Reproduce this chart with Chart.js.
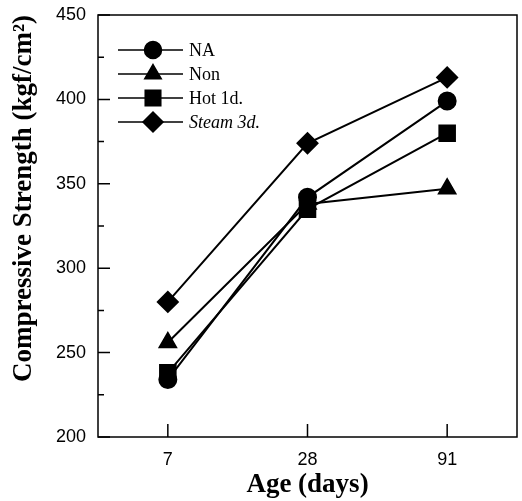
<!DOCTYPE html>
<html>
<head>
<meta charset="utf-8">
<script src="https://cdn.jsdelivr.net/npm/chart.js@4/dist/chart.umd.min.js"></script>
<style>
    html, body { margin: 0; padding: 0; background: #fff; }
    #wrap { width: 522px; height: 501px; }
</style>
</head>
<body>
<div id="wrap"><canvas id="grafico" width="522" height="501"></canvas></div>
<script>
const idades = ['7', '28', '91'];
const serieNA = [234, 342, 399];
const serieNon = [256, 338, 347];
const serieHot = [238, 335, 380];
const serieSteam = [280, 374, 413];
const nomesSeries = ['NA', 'Non', 'Hot 1d.', 'Steam 3d.'];
const marcadores = ['circle', 'triangle', 'rect', 'rectRot'];
const raios = [8.5, 9.5, 11, 10];

const serif = '"Liberation Serif", "Times New Roman", serif';
const sans = '"Liberation Sans", Arial, sans-serif';

function desenharMarcador(ctx, estilo, raio, x, y) {
    if (Chart.helpers && Chart.helpers.drawPoint) {
        Chart.helpers.drawPoint(ctx, { pointStyle: estilo, radius: raio, rotation: 0, borderWidth: 1 }, x, y);
        ctx.fill();
        return;
    }
    ctx.beginPath();
    ctx.arc(x, y, raio, 0, Math.PI * 2);
    ctx.fill();
}

// ticks pointing inward + frame + legend with line and marker
const molduraPlugin = {
    id: 'moldura',
    afterDatasetsDraw(chart) {
        const ctx = chart.ctx;
        const area = chart.chartArea;
        const ys = chart.scales.y;
        const xs = chart.scales.x;
        ctx.save();
        ctx.strokeStyle = '#000';
        ctx.lineWidth = 1.5;
        ctx.strokeRect(area.left, area.top, area.right - area.left, area.bottom - area.top);

        ctx.beginPath();
        const valores = ys.ticks.map(t => t.value);
        valores.forEach((v, i) => {
            const py = ys.getPixelForValue(v);
            ctx.moveTo(area.left, py);
            ctx.lineTo(area.left + 12, py);
            if (i < valores.length - 1) {
                const pm = ys.getPixelForValue((v + valores[i + 1]) / 2);
                ctx.moveTo(area.left, pm);
                ctx.lineTo(area.left + 6, pm);
            }
        });
        idades.forEach((_, i) => {
            const px = xs.getPixelForValue(i);
            ctx.moveTo(px, area.bottom);
            ctx.lineTo(px, area.bottom - 13);
        });
        ctx.stroke();

        // legenda
        const linhasY = [50, 74, 98, 122];
        ctx.fillStyle = '#000';
        ctx.lineWidth = 1.5;
        ctx.textBaseline = 'middle';
        chart.data.datasets.forEach((ds, i) => {
            const y = linhasY[i];
            ctx.beginPath();
            ctx.moveTo(118, y);
            ctx.lineTo(183, y);
            ctx.stroke();
            desenharMarcador(ctx, marcadores[i], raios[i], 153, y);
            ctx.font = (i === 3 ? 'italic ' : '') + '18px ' + serif;
            ctx.fillText(ds.label, 189, y + 1);
        });
        ctx.restore();
    }
};

function montarDataset(nome, dados, i) {
    return {
        label: nome,
        data: dados,
        borderColor: '#000',
        backgroundColor: '#000',
        borderWidth: 2,
        pointStyle: marcadores[i],
        pointRadius: raios[i],
        pointBackgroundColor: '#000',
        pointBorderColor: '#000',
        tension: 0,
    };
}

new Chart(document.getElementById('grafico'), {
    type: 'line',
    data: {
        labels: idades,
        datasets: [
            montarDataset(nomesSeries[0], serieNA, 0),
            montarDataset(nomesSeries[1], serieNon, 1),
            montarDataset(nomesSeries[2], serieHot, 2),
            montarDataset(nomesSeries[3], serieSteam, 3),
        ],
    },
    options: {
        responsive: false,
        animation: false,
        layout: { autoPadding: false, padding: { top: 15, right: 5, left: 0, bottom: 0 } },
        plugins: { legend: { display: false }, tooltip: { enabled: false } },
        scales: {
            x: {
                offset: true,
                grid: { display: false, drawTicks: false },
                border: { display: false },
                ticks: { color: '#000', padding: 12, font: { family: sans, size: 18 } },
                title: { display: true, text: 'Age (days)', color: '#000', padding: { top: 0, bottom: 0 },
                    font: { family: serif, size: 27, weight: 'bold' } },
                afterFit(scale) {
                    scale.height = 64;
                    scale.paddingLeft = 0;
                    scale.paddingRight = 0;
                },
            },
            y: {
                min: 200,
                max: 450,
                ticks: { stepSize: 50, color: '#000', padding: 12, font: { family: sans, size: 18 } },
                grid: { display: false, drawTicks: false },
                border: { display: false },
                title: { display: true, text: 'Compressive Strength (kgf/cm²)', color: '#000',
                    padding: { top: 8, bottom: 0 },
                    align: 'end', font: { family: serif, size: 27, weight: 'bold' } },
                afterFit(scale) {
                    scale.width = 98;
                    scale.paddingTop = 0;
                    scale.paddingBottom = 0;
                },
            },
        },
    },
    plugins: [molduraPlugin],
});
</script>
</body>
</html>
